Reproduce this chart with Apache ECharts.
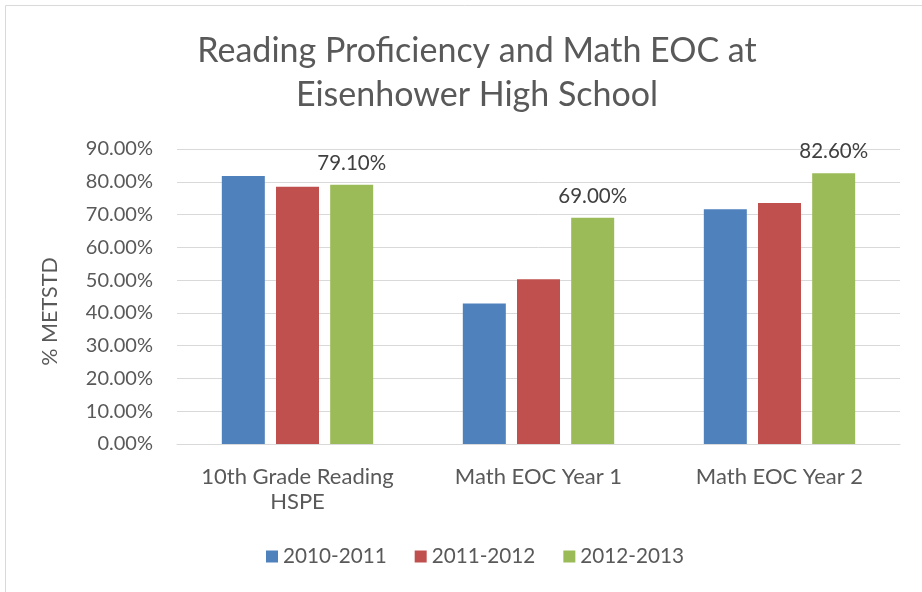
<!DOCTYPE html>
<html>
<head>
<meta charset="utf-8">
<script src="https://cdn.jsdelivr.net/npm/echarts@6/dist/echarts.min.js"></script>
<style>
  html, body { margin: 0; padding: 0; background: #fff; }
  #chart { width: 922px; height: 592px; }
</style>
</head>
<body>
<div id="chart"></div>
<script>
var categories = ['10th Grade Reading\nHSPE', 'Math EOC Year 1', 'Math EOC Year 2'];
var seriesNames = ['2010-2011', '2011-2012', '2012-2013'];
var values2010 = [81.8, 42.9, 71.6];
var values2011 = [78.5, 50.3, 73.5];
var values2012 = [79.1, 69.0, 82.6];
var yTicks = [0, 10, 20, 30, 40, 50, 60, 70, 80, 90];

var font = 'Lato';
var textColor = '#595959';

var myChart = echarts.init(document.getElementById('chart'));

function barSeries(name, data, color, showLabel) {
    return {
        name: name,
        type: 'bar',
        data: data,
        barWidth: 43,
        barGap: '26%',
        itemStyle: { color: color },
        label: {
            show: showLabel,
            position: 'top',
            distance: 11,
            fontFamily: font,
            fontSize: 20.5,
            color: '#404040',
            formatter: function (p) { return p.value.toFixed(2) + '%'; }
        }
    };
}

var option = {
    animation: false,
    textStyle: { fontFamily: font },
    title: {
        text: 'Reading Proficiency and Math EOC at\nEisenhower High School',
        left: 472,
        top: 24,
        textAlign: 'center',
        textStyle: {
            fontFamily: font,
            fontSize: 34,
            fontWeight: 'normal',
            color: textColor,
            lineHeight: 44
        }
    },
    graphic: [{
        type: 'rect',
        shape: { x: 5.5, y: 5.5, width: 930, height: 600 },
        style: { fill: 'none', stroke: '#d9d9d9', lineWidth: 1 }
    }],
    legend: {
        data: seriesNames,
        bottom: 20,
        left: 261,
        itemWidth: 12,
        itemHeight: 12,
        itemGap: 28,
        icon: 'rect',
        textStyle: { fontFamily: font, fontSize: 20.7, color: textColor }
    },
    grid: {
        left: 177,
        right: 22,
        top: 149,
        bottom: 148
    },
    xAxis: {
        type: 'category',
        data: categories,
        axisLine: { lineStyle: { color: '#d9d9d9', width: 1 } },
        axisTick: { show: false },
        axisLabel: {
            fontFamily: font,
            fontSize: 22,
            color: textColor,
            margin: 20,
            lineHeight: 25,
            interval: 0
        }
    },
    yAxis: {
        type: 'value',
        min: yTicks[0],
        max: yTicks[yTicks.length - 1],
        interval: 10,
        name: '% METSTD',
        nameLocation: 'middle',
        nameGap: 116,
        nameTextStyle: { fontFamily: font, fontSize: 21.5, color: textColor, padding: [0, 30, 0, 0] },
        axisLine: { show: false },
        axisTick: { show: false },
        splitLine: { lineStyle: { color: '#d9d9d9', width: 1 } },
        axisLabel: {
            fontFamily: font,
            fontSize: 20,
            color: textColor,
            margin: 24,
            formatter: function (v) { return v.toFixed(2) + '%'; }
        }
    },
    series: [
        barSeries(seriesNames[0], values2010, '#4f81bd', false),
        barSeries(seriesNames[1], values2011, '#c0504d', false),
        barSeries(seriesNames[2], values2012, '#9bbb59', true)
    ]
};
myChart.setOption(option, true);
</script>
</body>
</html>
